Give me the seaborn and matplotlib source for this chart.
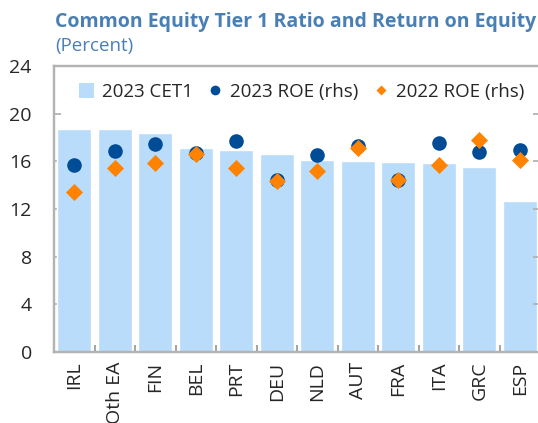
import numpy as np
import pandas as pd
import matplotlib.pyplot as plt
import seaborn as sns
from matplotlib.lines import Line2D
from matplotlib.patches import Patch
from matplotlib.ticker import FixedLocator

countries = ['IRL', 'Oth EA', 'FIN', 'BEL', 'PRT', 'DEU', 'NLD', 'AUT', 'FRA', 'ITA', 'GRC', 'ESP']
cet1_2023 = [18.7, 18.7, 18.4, 17.1, 16.95, 16.6, 16.1, 16.0, 15.95, 15.9, 15.5, 12.7]
roe_2023 = [15.7, 16.9, 17.45, 16.7, 17.7, 14.4, 16.5, 17.3, 14.4, 17.5, 16.8, 16.95]
roe_2022 = [13.4, 15.4, 15.9, 16.6, 15.4, 14.35, 15.2, 17.15, 14.4, 15.7, 17.8, 16.15]
yticks = [0, 4, 8, 12, 16, 20, 24]

bar_col = '#b9dcfb'
dot_col = '#004c97'
dia_col = '#ff8300'
spine_col = '#b3b3b3'

sns.set_style('white')
plt.rcParams['font.family'] = ['Open Sans', 'DejaVu Sans']

df = pd.DataFrame({'country': countries, 'cet1': cet1_2023,
                   'roe23': roe_2023, 'roe22': roe_2022})

fig = plt.figure(figsize=(5.38, 4.23), dpi=100)
ax = fig.add_axes([54/538, 71/423, 486/538, 286/423])

sns.barplot(data=df, x='country', y='cet1', color=bar_col, saturation=1,
            width=0.85, ax=ax)

ax2 = ax.twinx()
sns.stripplot(data=df, x='country', y='roe23', jitter=False, color=dot_col,
              marker='o', size=10.5, linewidth=0, ax=ax2, zorder=3)
sns.stripplot(data=df, x='country', y='roe22', jitter=False, color=dia_col,
              marker='D', size=8.7, linewidth=0, ax=ax2, zorder=4)

for a in (ax, ax2):
    a.set_ylim(0, 24)
    a.set_yticks(yticks)
    a.set_xlim(-0.5, len(countries) - 0.5)
    a.set_xlabel('')
    a.set_ylabel('')
    for s in a.spines.values():
        s.set_color(spine_col)
        s.set_linewidth(1.6)

ax.tick_params(axis='y', direction='in', length=5, width=1.3, color=spine_col,
               labelsize=14, pad=16, left=True)
ax2.tick_params(axis='y', direction='in', length=5, width=1.3, color=spine_col,
                labelright=False, right=True)
ax.set_xticks(range(len(countries)))
ax.set_xticklabels(countries, rotation=90, fontsize=14)
ax.tick_params(axis='x', length=0, pad=7)
ax.xaxis.set_minor_locator(FixedLocator(np.arange(0.5, len(countries) - 1, 1)))
ax.tick_params(axis='x', which='minor', direction='in', length=5, width=1.5,
               color='#a6a6a6', bottom=True)
ax2.tick_params(axis='x', length=0)

handles = [
    Patch(facecolor=bar_col, edgecolor='none', label='2023 CET1'),
    Line2D([], [], marker='o', color='none', markerfacecolor=dot_col,
           markeredgecolor='none', markersize=7, label='2023 ROE (rhs)'),
    Line2D([], [], marker='D', color='none', markerfacecolor=dia_col,
           markeredgecolor='none', markersize=5.5, label='2022 ROE (rhs)'),
]
ax2.legend(handles=handles, loc='upper center', bbox_to_anchor=(0.51, 1.0),
           ncol=3, frameon=False, fontsize=13.5, handlelength=0.8,
           handleheight=0.9, handletextpad=0.4, columnspacing=0.8)

fig.text(55/538, 1 - 27/423, 'Common Equity Tier 1 Ratio and Return on Equity',
         fontsize=14, fontweight='bold', color='#4a7fb3', va='baseline')
fig.text(55/538, 1 - 51/423, '(Percent)', fontsize=13.5, color='#4a7fb3',
         va='baseline')

fig.savefig('out.png', dpi=100)
